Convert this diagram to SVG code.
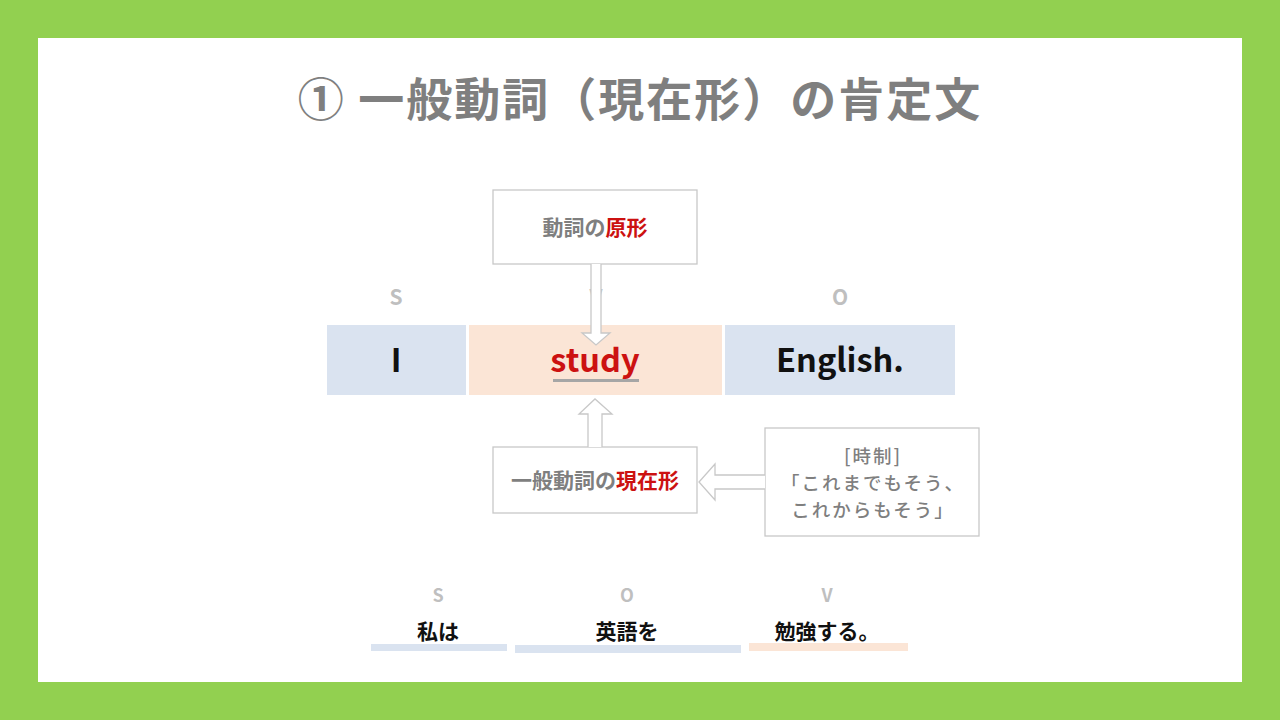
<svg xmlns="http://www.w3.org/2000/svg" width="1280" height="720" viewBox="0 0 1280 720">
<style>
text{font-family:"Noto Sans CJK JP","Noto Sans",sans-serif;text-anchor:middle}
.lbl{fill:#bfbfbf;font-size:21px;font-weight:700}
.slbl{fill:#bfbfbf;font-size:18px;font-weight:700}
.word{fill:#111;font-size:32.5px;font-weight:700}
.note{fill:#7f7f7f;font-size:21px;font-weight:700}
.red{fill:#cc1111}
.box{fill:#fff;stroke:#c8c8c8;stroke-width:1.3}
.arr{fill:#fff;stroke:#c8c8c8;stroke-width:1.3;stroke-linejoin:miter}
.jp{fill:#111;font-size:21px;font-weight:700}
.tense{fill:#7f7f7f;font-size:18.5px;font-weight:500;letter-spacing:2px}
</style>
<rect x="0" y="0" width="1280" height="720" fill="#92d050"/>
<rect x="38" y="38" width="1204" height="644" fill="#fff"/>
<g id="title"><text x="640" y="116" font-size="46" font-weight="700" fill="#7f7f7f" letter-spacing="2">① 一般動詞（現在形）の肯定文</text></g>
<g id="labels">
<text class="lbl" x="396" y="305">S</text>
<text class="lbl" x="596" y="305">V</text>
<text class="lbl" x="840" y="305">O</text>
</g>
<g id="node-s"><rect x="327" y="325" width="139" height="70" fill="#dae3f0"/><text class="word" x="396" y="372">I</text></g>
<g id="node-v"><rect x="469" y="325" width="253" height="70" fill="#fbe5d6"/><text class="word red" x="595" y="372">study</text><rect x="553" y="379" width="86" height="3" fill="#a6a6a6"/></g>
<g id="node-o"><rect x="725" y="325" width="230" height="70" fill="#dae3f0"/><text class="word" x="840" y="372">English.</text></g>
<g id="node-base"><rect class="box" x="493" y="190" width="204" height="74"/><text class="note" x="595" y="235">動詞の<tspan class="red">原形</tspan></text></g>
<g id="node-present"><rect class="box" x="493" y="447" width="204" height="66"/><text class="note" x="595" y="488">一般動詞の<tspan class="red">現在形</tspan></text></g>
<g id="node-tense"><rect class="box" x="765" y="428" width="214" height="108"/>
<text class="tense" x="873" y="463">[時制]</text>
<text class="tense" x="873" y="490">「これまでもそう、</text>
<text class="tense" x="873" y="517">これからもそう」</text></g>
<g id="connectors">
<path class="arr" d="M591 264 L591 333 L582 333 L596 345 L610 333 L601 333 L601 264"/>
<path class="arr" d="M588 447 L588 414 L579 414 L595 399 L612 414 L602 414 L602 447"/>
<path class="arr" d="M765 475 L715 475 L715 464 L699 482 L715 500 L715 489 L765 489"/>
</g>
<g id="jp-s"><text class="slbl" x="438" y="602">S</text><text class="jp" x="438" y="639">私は</text><rect x="371" y="644" width="136" height="7" fill="#dae3f0"/></g>
<g id="jp-o"><text class="slbl" x="627" y="602">O</text><text class="jp" x="627" y="639">英語を</text><rect x="515" y="645" width="226" height="8" fill="#dae3f0"/></g>
<g id="jp-v"><text class="slbl" x="827" y="602">V</text><text class="jp" x="827" y="639">勉強する。</text><rect x="749" y="643" width="159" height="8" fill="#fbe5d6"/></g>
</svg>
